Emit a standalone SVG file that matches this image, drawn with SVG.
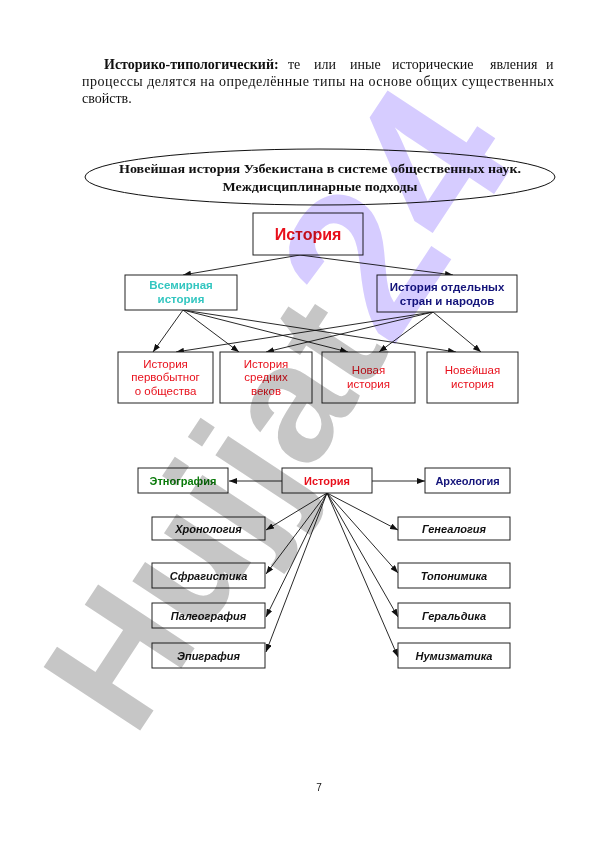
<svg xmlns="http://www.w3.org/2000/svg" width="596" height="842" viewBox="0 0 596 842">
<style>
.para{font-family:"Liberation Serif","Times New Roman",serif;font-size:14px;fill:#111}
.ttl{font-family:"Liberation Serif","Times New Roman",serif;font-size:13.5px;font-weight:bold;fill:#111;text-anchor:middle}
.box{fill:#fff;stroke:#222;stroke-width:1}
.t{font-family:"Liberation Sans",Arial,sans-serif;font-size:11.5px;text-anchor:middle}
.b{font-weight:bold}
.bi{font-weight:bold;font-style:italic;fill:#111;font-size:11px}
.red{fill:#e8101c}
.cyan{fill:#33c6c0}
.navy{fill:#14147a}
.green{fill:#0a7a0a}
.ln{stroke:#111;stroke-width:0.9;fill:none;marker-end:url(#ah)}
.wm{font-family:"Liberation Sans",Arial,sans-serif;font-weight:bold;font-size:168px;mix-blend-mode:multiply}
</style>
<defs>
<marker id="ah" markerUnits="userSpaceOnUse" markerWidth="8" markerHeight="6" refX="8" refY="3" orient="auto">
<path d="M0,0 L8,3 L0,6 z" fill="#111"/>
</marker>
</defs>
<rect width="596" height="842" fill="#fff"/>

<g id="paragraph">
<text class="para" y="69"><tspan x="104" font-weight="bold">Историко-типологический:</tspan><tspan x="288">те</tspan><tspan x="314">или</tspan><tspan x="350">иные</tspan><tspan x="392">исторические</tspan><tspan x="490">явления</tspan><tspan x="546">и</tspan></text>
<text class="para" x="82" y="86" textLength="472" lengthAdjust="spacing">процессы делятся на определённые типы на основе общих существенных</text>
<text class="para" x="82" y="103">свойств.</text>
</g>

<g id="title">
<ellipse cx="320" cy="177" rx="235" ry="28" fill="#fff" stroke="#111" stroke-width="1"/>
<text class="ttl" x="320" y="173" textLength="402" lengthAdjust="spacingAndGlyphs">Новейшая история Узбекистана в системе общественных наук.</text>
<text class="ttl" x="320" y="191" textLength="195" lengthAdjust="spacingAndGlyphs">Междисциплинарные подходы</text>
</g>

<g id="connectors">
<line class="ln" x1="300" y1="255" x2="183" y2="275"/>
<line class="ln" x1="300" y1="255" x2="453" y2="275"/>
<line class="ln" x1="183" y1="310" x2="153" y2="352"/>
<line class="ln" x1="183" y1="310" x2="239" y2="352"/>
<line class="ln" x1="183" y1="310" x2="348" y2="352"/>
<line class="ln" x1="183" y1="310" x2="456" y2="352"/>
<line class="ln" x1="433" y1="312" x2="176" y2="352"/>
<line class="ln" x1="433" y1="312" x2="266" y2="352"/>
<line class="ln" x1="433" y1="312" x2="379" y2="352"/>
<line class="ln" x1="433" y1="312" x2="481" y2="352"/>
<line class="ln" x1="282" y1="481" x2="229" y2="481"/>
<line class="ln" x1="372" y1="481" x2="425" y2="481"/>
<line class="ln" x1="327" y1="493" x2="266" y2="530"/>
<line class="ln" x1="327" y1="493" x2="266" y2="574"/>
<line class="ln" x1="327" y1="493" x2="266" y2="617"/>
<line class="ln" x1="327" y1="493" x2="266" y2="652"/>
<line class="ln" x1="327" y1="493" x2="398" y2="530"/>
<line class="ln" x1="327" y1="493" x2="398" y2="573"/>
<line class="ln" x1="327" y1="493" x2="398" y2="617"/>
<line class="ln" x1="327" y1="493" x2="398" y2="657"/>
</g>

<g id="n-istoriya-top">
<rect class="box" x="253" y="213" width="110" height="42"/>
<text class="t b red" x="308" y="240" style="font-size:16px">История</text>
</g>
<g id="n-vsemirnaya">
<rect class="box" x="125" y="275" width="112" height="35"/>
<text class="t b cyan" x="181" y="289">Всемирная</text>
<text class="t b cyan" x="181" y="303">история</text>
</g>
<g id="n-otdelnyh">
<rect class="box" x="377" y="275" width="140" height="37"/>
<text class="t b navy" x="447" y="291">История отдельных</text>
<text class="t b navy" x="447" y="305">стран и народов</text>
</g>
<g id="n-pervobyt">
<rect class="box" x="118" y="352" width="95" height="51"/>
<text class="t red" x="165.5" y="368">История</text>
<text class="t red" x="165.5" y="381">первобытног</text>
<text class="t red" x="165.5" y="395">о общества</text>
</g>
<g id="n-srednih">
<rect class="box" x="220" y="352" width="92" height="51"/>
<text class="t red" x="266" y="368">История</text>
<text class="t red" x="266" y="381">средних</text>
<text class="t red" x="266" y="395">веков</text>
</g>
<g id="n-novaya">
<rect class="box" x="322" y="352" width="93" height="51"/>
<text class="t red" x="368.5" y="374">Новая</text>
<text class="t red" x="368.5" y="388">история</text>
</g>
<g id="n-noveyshaya">
<rect class="box" x="427" y="352" width="91" height="51"/>
<text class="t red" x="472.5" y="374">Новейшая</text>
<text class="t red" x="472.5" y="388">история</text>
</g>

<g id="n-etnografiya">
<rect class="box" x="138" y="468" width="90" height="25"/>
<text class="t b green" x="183" y="485" style="font-size:11px">Этнография</text>
</g>
<g id="n-istoriya-2">
<rect class="box" x="282" y="468" width="90" height="25"/>
<text class="t b red" x="327" y="485" style="font-size:11px">История</text>
</g>
<g id="n-arheologiya">
<rect class="box" x="425" y="468" width="85" height="25"/>
<text class="t b navy" x="467.5" y="485" style="font-size:11px">Археология</text>
</g>

<g id="n-hronologiya">
<rect class="box" x="152" y="517" width="113" height="23"/>
<text class="t bi" x="208.5" y="533">Хронология</text>
</g>
<g id="n-sfragistika">
<rect class="box" x="152" y="563" width="113" height="25"/>
<text class="t bi" x="208.5" y="580">Сфрагистика</text>
</g>
<g id="n-paleografiya">
<rect class="box" x="152" y="603" width="113" height="25"/>
<text class="t bi" x="208.5" y="620">Палеография</text>
</g>
<g id="n-epigrafiya">
<rect class="box" x="152" y="643" width="113" height="25"/>
<text class="t bi" x="208.5" y="660">Эпиграфия</text>
</g>
<g id="n-genealogiya">
<rect class="box" x="398" y="517" width="112" height="23"/>
<text class="t bi" x="454" y="533">Генеалогия</text>
</g>
<g id="n-toponimika">
<rect class="box" x="398" y="563" width="112" height="25"/>
<text class="t bi" x="454" y="580">Топонимика</text>
</g>
<g id="n-geraldika">
<rect class="box" x="398" y="603" width="112" height="25"/>
<text class="t bi" x="454" y="620">Геральдика</text>
</g>
<g id="n-numizmatika">
<rect class="box" x="398" y="643" width="112" height="25"/>
<text class="t bi" x="454" y="660">Нумизматика</text>
</g>

<text x="319" y="791" font-family="Liberation Sans, Arial, sans-serif" font-size="10" fill="#111" text-anchor="middle">7</text>

<text class="wm" transform="translate(134,740) rotate(-56.6)"><tspan fill="#c6c6c6">Hujjat</tspan><tspan fill="#d6ccff" style="font-size:212px">24</tspan></text>
</svg>
